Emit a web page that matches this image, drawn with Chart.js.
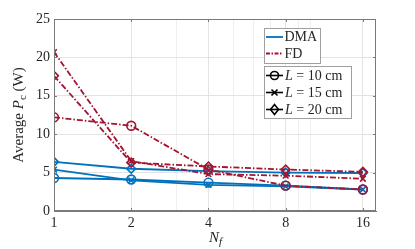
<!DOCTYPE html>
<html>
<head>
<meta charset="utf-8">
<script src="https://cdn.jsdelivr.net/npm/chart.js@4"></script>
<style>
  html, body { margin: 0; padding: 0; background: #fff; }
  #wrap { width: 415px; height: 249px; }
</style>
</head>
<body>
<div id="wrap"><canvas id="myChart" width="415" height="249"></canvas></div>
<script>
// values
var nfValues = [1, 2, 4, 8, 16];
var xTickLabels = [1, 2, 4, 8, 16];
var xMinorGrid = [3, 5, 6, 7, 9, 10];
var yTickValues = [0, 5, 10, 15, 20, 25];

var dmaL10 = [4.3, 4.1, 3.7, 3.3, 2.8];
var dmaL15 = [5.4, 4.0, 3.4, 3.2, 2.8];
var dmaL20 = [6.4, 5.5, 5.2, 5.0, 4.95];
var fdL10 = [12.2, 11.1, 5.4, 3.3, 2.8];
var fdL15 = [20.7, 6.5, 4.8, 4.6, 4.2];
var fdL20 = [17.6, 6.3, 5.8, 5.4, 5.1];

var blue = '#0072BD';
var red = '#A2142F';
var serif = '"Liberation Serif", "DejaVu Serif", serif';
var txt = '#262626';
var axisColor = '#7a7a7a';

function pts(arr) {
  return nfValues.map(function (n, i) { return { x: n, y: arr[i] }; });
}

function ds(arr, color, style, dashed) {
  return {
    data: pts(arr),
    borderColor: color,
    borderWidth: 1.8,
    borderDash: dashed ? [6, 2, 1.5, 2] : [],
    pointStyle: style,
    pointRadius: style === 'crossRot' ? 4 : 4.4,
    pointBorderWidth: 1.6,
    pointBorderColor: color,
    pointBackgroundColor: 'rgba(0,0,0,0)',
    fill: false,
    tension: 0,
  };
}

var extras = {
  id: 'extras',
  afterDraw: function (chart) {
    var c = chart.ctx;
    var a = chart.chartArea;
    var xs = chart.scales.x;
    var ys = chart.scales.y;
    c.save();
    // box
    c.strokeStyle = axisColor;
    c.lineWidth = 1;
    c.strokeRect(a.left + 0.5, a.top + 0.5, a.right - a.left - 1, a.bottom - a.top - 1);
    // inward ticks
    c.beginPath();
    xTickLabels.forEach(function (v) {
      var px = Math.round(xs.getPixelForValue(v)) + 0.5;
      c.moveTo(px, a.bottom); c.lineTo(px, a.bottom - 3);
      c.moveTo(px, a.top); c.lineTo(px, a.top + 3);
    });
    yTickValues.forEach(function (v) {
      var py = Math.round(ys.getPixelForValue(v)) + 0.5;
      c.moveTo(a.left, py); c.lineTo(a.left + 3, py);
      c.moveTo(a.right, py); c.lineTo(a.right - 3, py);
    });
    c.stroke();

    // axis titles
    c.fillStyle = txt;
    c.textBaseline = 'alphabetic';
    // x title N_f
    c.font = 'italic 15px ' + serif;
    var nx = (a.left + a.right) / 2 - 6;
    c.fillText('N', nx, 242);
    var nw = c.measureText('N').width;
    c.font = 'italic 11px ' + serif;
    c.fillText('f', nx + nw, 245);
    // y title
    c.save();
    c.translate(23, (a.top + a.bottom) / 2);
    c.rotate(-Math.PI / 2);
    var parts = [
      ['Average ', '15px ' + serif, 0],
      ['P', 'italic 15px ' + serif, 0],
      ['c', '11px ' + serif, 3],
      [' (W)', '15px ' + serif, 0],
    ];
    var total = 0;
    parts.forEach(function (p) { c.font = p[1]; total += c.measureText(p[0]).width; });
    var cx = -total / 2;
    parts.forEach(function (p) {
      c.font = p[1];
      c.fillText(p[0], cx, p[2]);
      cx += c.measureText(p[0]).width;
    });
    c.restore();

    // legend boxes
    c.fillStyle = '#fff';
    c.strokeStyle = '#a0a0a0';
    c.lineWidth = 1;
    c.fillRect(264.5, 28.5, 56, 35);
    c.strokeRect(264.5, 28.5, 56, 35);
    c.fillRect(264.5, 66.5, 87, 52);
    c.strokeRect(264.5, 66.5, 87, 52);

    c.fillStyle = txt;
    c.font = '14px ' + serif;
    c.textBaseline = 'middle';
    // DMA
    c.strokeStyle = blue;
    c.lineWidth = 1.8;
    c.setLineDash([]);
    c.beginPath(); c.moveTo(266, 37); c.lineTo(283, 37); c.stroke();
    c.fillText('DMA', 284.5, 37.5);
    // FD
    c.strokeStyle = red;
    c.setLineDash([4, 1.5, 1.5, 1.5]);
    c.beginPath(); c.moveTo(266, 53.5); c.lineTo(283, 53.5); c.stroke();
    c.setLineDash([]);
    c.fillText('FD', 284.5, 54);

    // marker rows
    var rows = [['circle', '10', 75.5], ['crossRot', '15', 92.5], ['rectRot', '20', 109.5]];
    rows.forEach(function (r) {
      var y = r[2];
      c.strokeStyle = '#000';
      c.lineWidth = 1.6;
      c.beginPath(); c.moveTo(266, y); c.lineTo(283, y); c.stroke();
      c.beginPath();
      if (r[0] === 'circle') {
        c.arc(274.5, y, 4, 0, Math.PI * 2);
      } else if (r[0] === 'crossRot') {
        c.moveTo(271.5, y - 3); c.lineTo(277.5, y + 3);
        c.moveTo(271.5, y + 3); c.lineTo(277.5, y - 3);
      } else {
        c.moveTo(274.5, y - 5); c.lineTo(278.5, y); c.lineTo(274.5, y + 5); c.lineTo(270.5, y); c.closePath();
      }
      c.stroke();
      var tx = 285;
      c.font = 'italic 14px ' + serif;
      c.fillText('L', tx, y + 0.5);
      tx += c.measureText('L').width;
      c.font = '14px ' + serif;
      c.fillText(' = ' + r[1] + ' cm', tx, y + 0.5);
    });
    c.restore();
  },
};

var ctx = document.getElementById('myChart');

new Chart(ctx, {
  type: 'line',
  data: {
    datasets: [
      ds(fdL10, red, 'circle', true),
      ds(fdL15, red, 'crossRot', true),
      ds(fdL20, red, 'rectRot', true),
      ds(dmaL10, blue, 'circle', false),
      ds(dmaL15, blue, 'crossRot', false),
      ds(dmaL20, blue, 'rectRot', false),
    ],
  },
  plugins: [extras],
  options: {
    responsive: false,
    animation: false,
    layout: { padding: { top: 19, right: 39, left: 0, bottom: 0 } },
    plugins: { legend: { display: false }, tooltip: { enabled: false } },
    scales: {
      x: {
        type: 'logarithmic',
        min: 1,
        max: 18,
        afterBuildTicks: function (scale) {
          scale.ticks = xTickLabels.concat(xMinorGrid).sort(function (p, q) { return p - q; })
            .map(function (v) { return { value: v }; });
        },
        afterFit: function (scale) { scale.height = 38; },
        ticks: {
          autoSkip: false,
          maxRotation: 0,
          padding: 4,
          color: txt,
          font: { family: serif, size: 14 },
          callback: function (v) { return xTickLabels.indexOf(v) >= 0 ? String(v) : ''; },
        },
        grid: {
          drawTicks: false,
          color: function (c) {
            return xTickLabels.indexOf(c.tick && c.tick.value) >= 0 ? '#e3e3e3' : '#efefef';
          },
        },
        border: { display: true, color: axisColor },
      },
      y: {
        min: 0,
        max: 25,
        afterBuildTicks: function (scale) {
          scale.ticks = yTickValues.map(function (v) { return { value: v }; });
        },
        afterFit: function (scale) { scale.width = 54; },
        ticks: {
          padding: 4,
          color: txt,
          font: { family: serif, size: 14 },
        },
        grid: { drawTicks: false, color: '#e3e3e3' },
        border: { display: true, color: axisColor },
      },
    },
  },
});
</script>
</body>
</html>
